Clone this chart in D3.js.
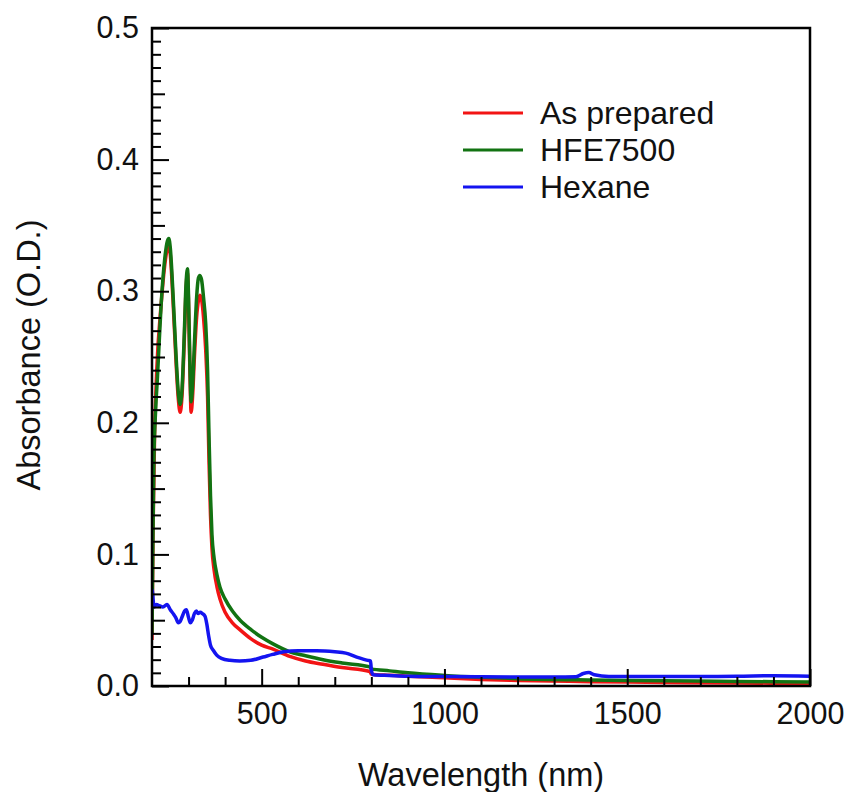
<!DOCTYPE html>
<html>
<head>
<meta charset="utf-8">
<script src="https://cdn.jsdelivr.net/npm/d3@7"></script>
<style>
  html, body { margin: 0; padding: 0; background: #fff; }
  svg { display: block; font-family: "Liberation Sans", Arial, sans-serif; }
</style>
</head>
<body>
<svg id="chart" width="848" height="792"></svg>
<script>
// ---- data ----
const seriesNames = ["As prepared", "HFE7500", "Hexane"];
const seriesColors = ["#f21414", "#127312", "#1414f0"];

const wlPrepared = [200,203,207,213,225,235,242,246,250,258,266,272,277,282,288,293,297,300,304,307,311,316,322,327,331,336,341,347,352,356,360,364,370,378,386,400,420,441,470,500,531,577,620,668,720,796,800,850,900,1000,1100,1200,1400,1600,1800,2000];
const absPrepared = [0.035,0.12,0.19,0.24,0.29,0.32,0.333,0.336,0.328,0.29,0.245,0.218,0.208,0.22,0.26,0.30,0.314,0.29,0.235,0.208,0.22,0.25,0.28,0.293,0.297,0.293,0.28,0.255,0.22,0.17,0.13,0.105,0.088,0.075,0.066,0.056,0.048,0.0426,0.036,0.031,0.028,0.0225,0.019,0.0165,0.014,0.011,0.009,0.0082,0.0075,0.0062,0.005,0.0042,0.0033,0.0027,0.0023,0.002];

const wlHFE = [200,202,205,210,215,225,235,242,246,250,258,266,272,277,282,288,293,297,300,304,307,311,316,322,327,331,336,341,347,352,356,360,364,370,378,386,400,420,441,470,500,531,577,620,668,720,796,800,850,900,1000,1100,1200,1400,1600,1800,2000];
const absHFE = [0.04,0.10,0.17,0.21,0.235,0.29,0.325,0.338,0.340,0.333,0.295,0.25,0.223,0.214,0.225,0.265,0.305,0.317,0.295,0.24,0.216,0.228,0.26,0.295,0.31,0.312,0.308,0.295,0.275,0.24,0.19,0.145,0.115,0.097,0.084,0.075,0.066,0.057,0.050,0.043,0.037,0.032,0.026,0.023,0.020,0.0175,0.0145,0.013,0.0115,0.010,0.008,0.0066,0.0056,0.0046,0.004,0.0035,0.003];

const wlHexane = [200,201,203,206,212,220,230,241,250,258,265,272,277,283,289,294,300,305,310,316,321,326,332,338,345,350,355,360,368,377,390,413,440,470,504,530,560,600,650,700,730,760,790,798,800,805,850,900,1000,1100,1200,1300,1360,1380,1395,1410,1450,1600,1800,1900,2000];
const absHexane = [0.062,0.073,0.066,0.060,0.062,0.061,0.060,0.062,0.058,0.055,0.052,0.048,0.049,0.053,0.057,0.058,0.052,0.048,0.050,0.055,0.057,0.055,0.056,0.055,0.053,0.047,0.038,0.031,0.027,0.0235,0.021,0.0195,0.019,0.0195,0.022,0.024,0.026,0.0268,0.0268,0.026,0.025,0.022,0.0195,0.019,0.012,0.0085,0.008,0.0075,0.0072,0.007,0.0068,0.0068,0.007,0.0095,0.0102,0.0085,0.0072,0.0072,0.0074,0.0078,0.0075];

const xTickLabels = [500, 1000, 1500, 2000];
const yTickLabels = [0.0, 0.1, 0.2, 0.3, 0.4, 0.5];

// ---- layout ----
const svg = d3.select("#chart");
const L = 152, R = 810, T = 28, B = 686;
const x = d3.scaleLinear().domain([200, 2000]).range([L, R]);
const y = d3.scaleLinear().domain([0, 0.5]).range([B, T]);

const series = [
  {name: seriesNames[0], color: seriesColors[0], wl: wlPrepared, v: absPrepared},
  {name: seriesNames[1], color: seriesColors[1], wl: wlHFE, v: absHFE},
  {name: seriesNames[2], color: seriesColors[2], wl: wlHexane, v: absHexane}
];

svg.append("defs").append("clipPath").attr("id", "clip")
  .append("rect").attr("x", L).attr("y", T).attr("width", R - L).attr("height", B - T);

const line = d3.line().x(d => x(d[0])).y(d => y(d[1])).curve(d3.curveMonotoneX);
const g = svg.append("g").attr("clip-path", "url(#clip)");
series.forEach(s => {
  g.append("path")
    .datum(s.wl.map((w, i) => [w, s.v[i]]))
    .attr("fill", "none")
    .attr("stroke", s.color)
    .attr("stroke-width", 3.5)
    .attr("stroke-linejoin", "round")
    .attr("d", line);
});

// ---- axes (ticks inward) ----
const yMinor = d3.range(0, 0.5001, 0.01).map(v => +v.toFixed(2));
const yAxis = d3.axisRight(y).tickValues(yMinor).tickFormat("")
  .tickSize(0).tickSizeOuter(0);
const yg = svg.append("g").attr("transform", `translate(${L},0)`).call(yAxis);
yg.select(".domain").remove();
yg.selectAll(".tick line")
  .attr("x2", d => {
    const k = Math.round(d * 100);
    return k % 10 === 0 ? 17 : (k % 5 === 0 ? 13 : 9);
  })
  .attr("stroke", "#000").attr("stroke-width", 2);

const yLab = d3.axisLeft(y).tickValues(yTickLabels).tickFormat(d3.format(".1f")).tickSize(0);
const ylg = svg.append("g").attr("transform", `translate(${L - 10},0)`).call(yLab);
ylg.select(".domain").remove();
ylg.selectAll("text").attr("font-size", 30.5).attr("fill", "#111")
  .attr("font-family", "Liberation Sans, Arial, sans-serif");

const xMinor = d3.range(300, 2001, 100);
const xAxis = d3.axisTop(x).tickValues(xMinor).tickFormat("").tickSize(0).tickSizeOuter(0);
const xg = svg.append("g").attr("transform", `translate(0,${B})`).call(xAxis);
xg.select(".domain").remove();
xg.selectAll(".tick line")
  .attr("y2", d => (d % 500 === 0 ? -17 : -9))
  .attr("stroke", "#000").attr("stroke-width", 2);

const xLab = d3.axisBottom(x).tickValues(xTickLabels).tickFormat(d3.format("d")).tickSize(0);
const xlg = svg.append("g").attr("transform", `translate(0,${B + 13})`).call(xLab);
xlg.select(".domain").remove();
xlg.selectAll("text").attr("font-size", 30.5).attr("fill", "#111")
  .attr("font-family", "Liberation Sans, Arial, sans-serif");

// frame
svg.append("rect").attr("x", L).attr("y", T).attr("width", R - L).attr("height", B - T)
  .attr("fill", "none").attr("stroke", "#000").attr("stroke-width", 2.5);

// titles
svg.append("text").attr("x", (L + R) / 2).attr("y", 786)
  .attr("text-anchor", "middle").attr("font-size", 32.5).attr("fill", "#111")
  .text("Wavelength (nm)");
svg.append("text").attr("transform", `translate(40,${355}) rotate(-90)`)
  .attr("text-anchor", "middle").attr("font-size", 32.5).attr("fill", "#111")
  .text("Absorbance (O.D.)");

// legend
const legY = [113, 150, 187];
series.forEach((s, i) => {
  svg.append("line").attr("x1", 463).attr("x2", 523).attr("y1", legY[i]).attr("y2", legY[i])
    .attr("stroke", s.color).attr("stroke-width", 3);
  svg.append("text").attr("x", 540).attr("y", legY[i]).attr("dy", "0.35em")
    .attr("font-size", 32).attr("fill", "#111").text(s.name);
});
</script>
</body>
</html>
